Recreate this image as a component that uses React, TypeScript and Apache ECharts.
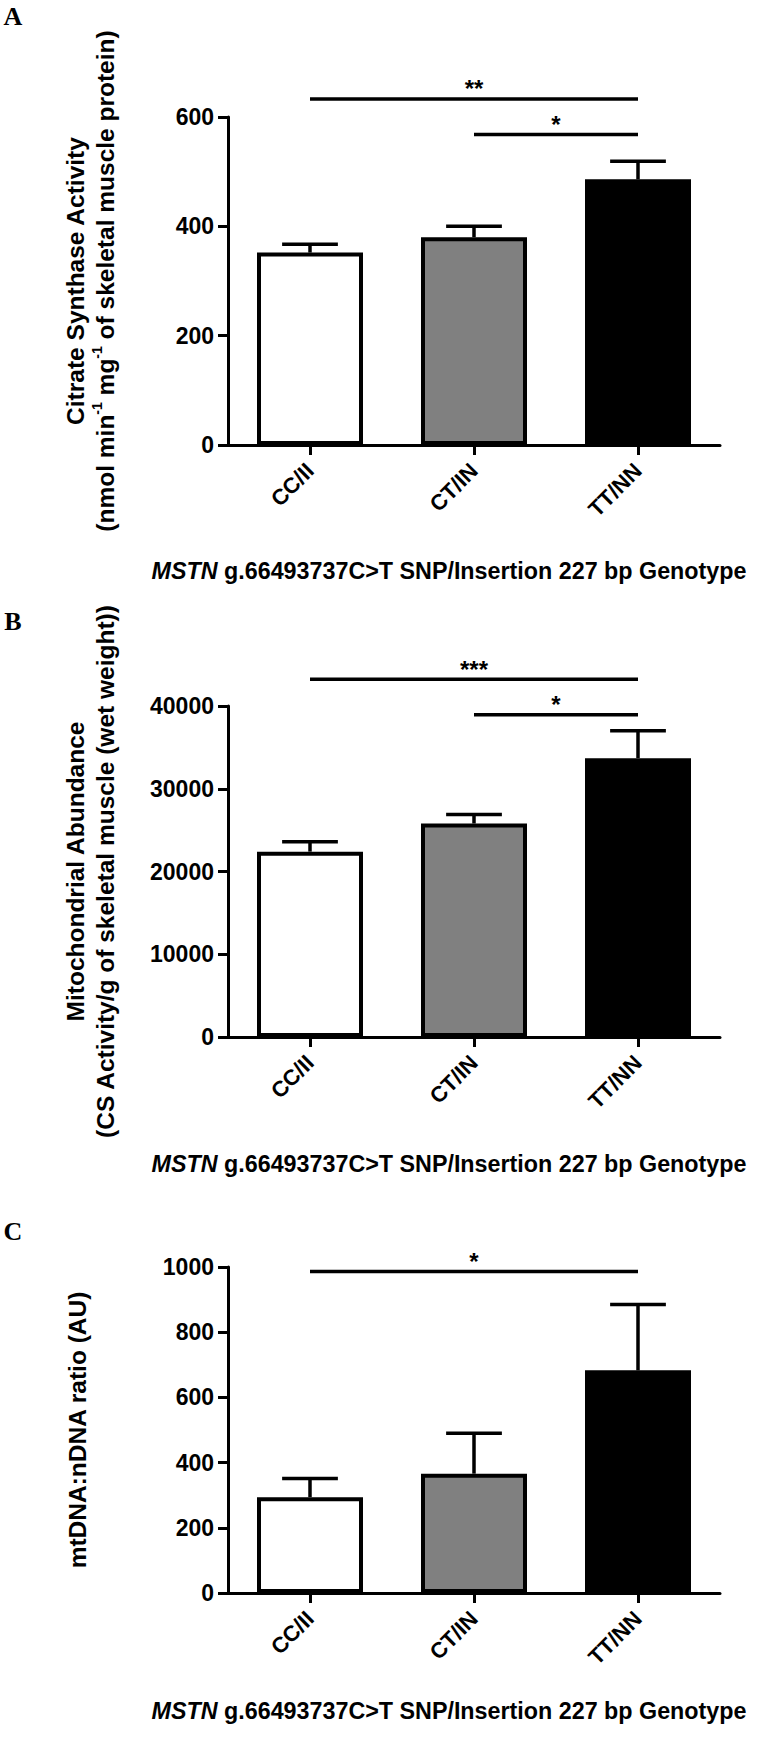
import React, { useEffect, useRef } from 'react';
import * as echarts from 'echarts';

const categories = ['CC/II', 'CT/IN', 'TT/NN'];
const barColors = ['#ffffff', '#808080', '#000000'];

// Panel A: Citrate synthase activity
const csMean = [352, 380, 486];
const csSem = [15, 20, 33];
const csSig: [number, number, number, string][] = [[0, 2, 633, '**'], [1, 2, 568, '*']];
const csAxis = { min: 0, max: 600, interval: 200 };

// Panel B: Mitochondrial abundance
const abMean = [22400, 25800, 33700];
const abSem = [1200, 1100, 3300];
const abSig: [number, number, number, string][] = [[0, 2, 43240, '***'], [1, 2, 38950, '*']];
const abAxis = { min: 0, max: 40000, interval: 10000 };

// Panel C: mtDNA:nDNA ratio
const mtMean = [294, 366, 683];
const mtSem = [57, 124, 202];
const mtSig: [number, number, number, string][] = [[0, 2, 986, '*']];
const mtAxis = { min: 0, max: 1000, interval: 200 };

const xTitle = '{i|MSTN} g.66493737C>T SNP/Insertion 227 bp Genotype';
const yTitles = [
  'Citrate Synthase Activity\n(nmol min{sup|-1} mg{sup|-1} of skeletal muscle protein)',
  'Mitochondrial Abundance\n(CS Activity/g of skeletal muscle (wet weight))',
  'mtDNA:nDNA ratio (AU)',
];
const panelLetters = ['A', 'B', 'C'];

const FONT = 'Arial, "Liberation Sans", Helvetica, sans-serif';
const SERIF = '"Times New Roman", "Liberation Serif", serif';

export default function App() {
  const ref = useRef<HTMLDivElement>(null);
  useEffect(() => {
    if (!ref.current) return;
    const chart = echarts.init(ref.current, undefined, { renderer: 'svg' });

    const grids = [
      { left: 228, top: 117, width: 492, height: 328 },
      { left: 228, top: 706, width: 492, height: 331 },
      { left: 228, top: 1267, width: 492, height: 326 },
    ];
    const axes = [csAxis, abAxis, mtAxis];
    const means = [csMean, abMean, mtMean];
    const sems = [csSem, abSem, mtSem];
    const sigs = [csSig, abSig, mtSig];
    const nameGaps = [108, 108, 136];

    const xAxis = grids.map((_, i) => ({
      type: 'category',
      gridIndex: i,
      data: categories,
      axisLine: { show: true, lineStyle: { color: '#000', width: 3 } },
      axisTick: { show: true, alignWithLabel: true, length: 10, lineStyle: { color: '#000', width: 3 } },
      axisLabel: { rotate: 45, margin: 22, color: '#000', fontSize: 22, fontWeight: 'bold', fontFamily: FONT },
      splitLine: { show: false },
    }));

    const yAxis = grids.map((_, i) => ({
      type: 'value',
      gridIndex: i,
      min: axes[i].min,
      max: axes[i].max,
      interval: axes[i].interval,
      axisLine: { show: true, lineStyle: { color: '#000', width: 3 } },
      axisTick: { show: true, length: 10, lineStyle: { color: '#000', width: 3 } },
      axisLabel: {
        margin: 14,
        color: '#000',
        fontSize: 23,
        fontWeight: 'bold',
        fontFamily: FONT,
        formatter: (v: number) => String(v),
      },
      splitLine: { show: false },
      name: yTitles[i],
      nameLocation: 'middle',
      nameRotate: 90,
      nameGap: nameGaps[i],
      nameTextStyle: {
        color: '#000',
        fontSize: 24.5,
        fontWeight: 'bold',
        fontFamily: FONT,
        lineHeight: 30,
        rich: {
          sup: { fontSize: 14, fontWeight: 'bold', fontFamily: FONT, color: '#000', verticalAlign: 'top', lineHeight: 30 },
        },
      },
    }));

    const series: any[] = [];
    grids.forEach((_, i) => {
      series.push({
        type: 'bar',
        xAxisIndex: i,
        yAxisIndex: i,
        barWidth: 106,
        z: 2,
        data: means[i].map((v, k) => ({
          value: v,
          itemStyle: { color: barColors[k], borderColor: '#000', borderWidth: 4 },
        })),
      });
      series.push({
        type: 'custom',
        xAxisIndex: i,
        yAxisIndex: i,
        z: 3,
        encode: { x: 0, y: [1, 2] },
        data: means[i].map((v, k) => [k, v, v + sems[i][k]]),
        renderItem: (params: any, api: any) => {
          const x = api.value(0);
          const p0 = api.coord([x, api.value(1)]);
          const p1 = api.coord([x, api.value(2)]);
          const half = api.size([1, 0])[0] * 0.17;
          const st = { stroke: '#000', lineWidth: 3.5, fill: 'none' };
          return {
            type: 'group',
            children: [
              { type: 'line', shape: { x1: p0[0], y1: p0[1], x2: p1[0], y2: p1[1] }, style: st },
              { type: 'line', shape: { x1: p1[0] - half, y1: p1[1], x2: p1[0] + half, y2: p1[1] }, style: st },
            ],
          };
        },
      });
      const sig = sigs[i];
      series.push({
        type: 'custom',
        xAxisIndex: i,
        yAxisIndex: i,
        z: 4,
        clip: false,
        encode: { x: [0, 1], y: 2 },
        data: sig.map((s) => [s[0], s[1], s[2]]),
        renderItem: (params: any, api: any) => {
          const yv = api.value(2);
          const p0 = api.coord([api.value(0), yv]);
          const p1 = api.coord([api.value(1), yv]);
          return {
            type: 'group',
            children: [
              { type: 'line', shape: { x1: p0[0], y1: p0[1], x2: p1[0], y2: p1[1] }, style: { stroke: '#000', lineWidth: 3.5 } },
              {
                type: 'text',
                x: (p0[0] + p1[0]) / 2,
                y: p0[1] - 10,
                style: {
                  text: sig[params.dataIndex][3],
                  fill: '#000',
                  fontSize: 24,
                  fontWeight: 'bold',
                  fontFamily: FONT,
                  align: 'center',
                  verticalAlign: 'middle',
                },
              },
            ],
          };
        },
      });
    });

    const titleY = [571, 1164, 1711];
    const letterY = [16, 621, 1231];
    const graphic: any[] = [];
    titleY.forEach((y) => {
      graphic.push({
        type: 'text',
        x: 449,
        y,
        style: {
          text: xTitle,
          fill: '#000',
          fontSize: 23.3,
          fontWeight: 'bold',
          fontFamily: FONT,
          align: 'center',
          verticalAlign: 'middle',
          rich: { i: { fontStyle: 'italic', fontWeight: 'bold', fontSize: 23.3, fontFamily: FONT, fill: '#000' } },
        },
      });
    });
    letterY.forEach((y, i) => {
      graphic.push({
        type: 'text',
        x: 13,
        y,
        style: {
          text: panelLetters[i],
          fill: '#000',
          fontSize: 26,
          fontWeight: 'bold',
          fontFamily: SERIF,
          align: 'center',
          verticalAlign: 'middle',
        },
      });
    });

    chart.setOption({
      animation: false,
      backgroundColor: '#ffffff',
      grid: grids,
      xAxis,
      yAxis,
      series,
      graphic,
    } as any);

    return () => chart.dispose();
  }, []);

  return (
    <div
      ref={ref}
      style={{ position: 'absolute', left: 0, top: 0, width: 772, height: 1749 }}
    />
  );
}
